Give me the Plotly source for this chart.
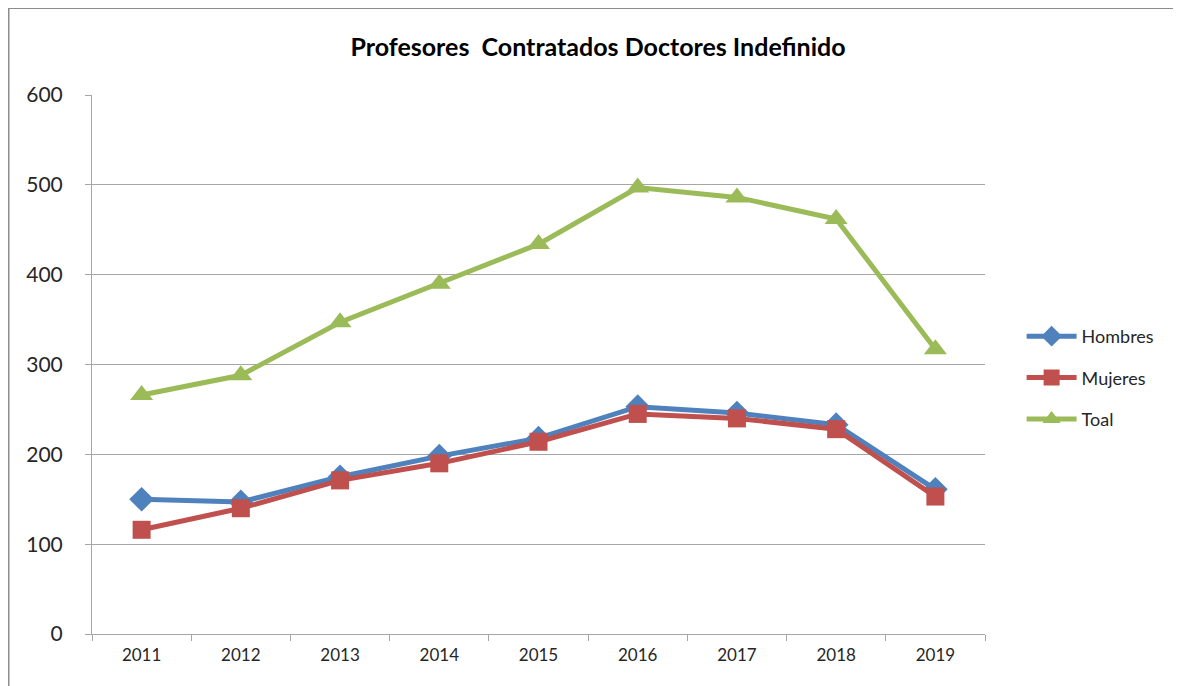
import plotly.graph_objects as go

# datos
years = ["2011", "2012", "2013", "2014", "2015", "2016", "2017", "2018", "2019"]
hombres = [150, 147, 175, 198, 218, 253, 246, 233, 161]
mujeres = [116, 140, 171, 190, 214, 245, 240, 228, 153]
toal = [266, 288, 347, 390, 434, 497, 486, 462, 317]

FONT = "Lato"

fig = go.Figure()

series = [
    ("Hombres", hombres, "#4F81BD", "diamond", 19),
    ("Mujeres", mujeres, "#C0504D", "square", 18),
    ("Toal", toal, "#9BBB59", "triangle-up", 20),
]
for name, vals, color, symbol, size in series:
    fig.add_trace(go.Scatter(
        x=years, y=vals, name=name, mode="lines+markers",
        legendgroup=name,
        line=dict(color=color, width=5),
        marker=dict(symbol=symbol, size=size, color=color),
    ))

# marco gris (arriba e izquierda)
fig.add_shape(type="line", xref="paper", yref="paper",
              x0=-0.0935, x1=1.25, y0=1.1614, y1=1.1614,
              line=dict(color="#8C8C8C", width=2))
fig.add_shape(type="line", xref="paper", yref="paper",
              x0=-0.0935, x1=-0.0935, y0=1.1614, y1=-0.2,
              line=dict(color="#8C8C8C", width=2))

fig.update_xaxes(
    type="category", range=[-0.5, 8.5],
    showgrid=False, showline=True, linecolor="#A6A6A6", linewidth=1,
    ticks="outside", tickson="boundaries", ticklen=6, tickcolor="#A6A6A6",
    ticklabelstandoff=6,
    tickfont=dict(family=FONT, size=17, color="#262626"),
)
fig.update_yaxes(
    range=[0, 600], dtick=100,
    showgrid=True, gridcolor="#A6A6A6", gridwidth=1,
    showline=True, linecolor="#A6A6A6", linewidth=1,
    ticks="outside", ticklen=6, tickcolor="#A6A6A6",
    ticklabelstandoff=18,
    tickfont=dict(family=FONT, size=21, color="#262626"),
    zeroline=False,
)

fig.update_layout(
    width=1181, height=686,
    margin=dict(l=84, r=204, t=87, b=60),
    paper_bgcolor="white", plot_bgcolor="white",
    title=dict(text="<b>Profesores  Contratados Doctores Indefinido</b>",
               x=0.4996, xanchor="center", y=0.943, yanchor="middle",
               font=dict(family=FONT, size=25, color="#000000")),
    legend=dict(x=1.041, y=0.475, xanchor="left", yanchor="middle",
                itemwidth=50,
                font=dict(family=FONT, size=18, color="#262626"),
                tracegroupgap=15, bgcolor="rgba(0,0,0,0)"),
)

fig.write_html("out.html")
